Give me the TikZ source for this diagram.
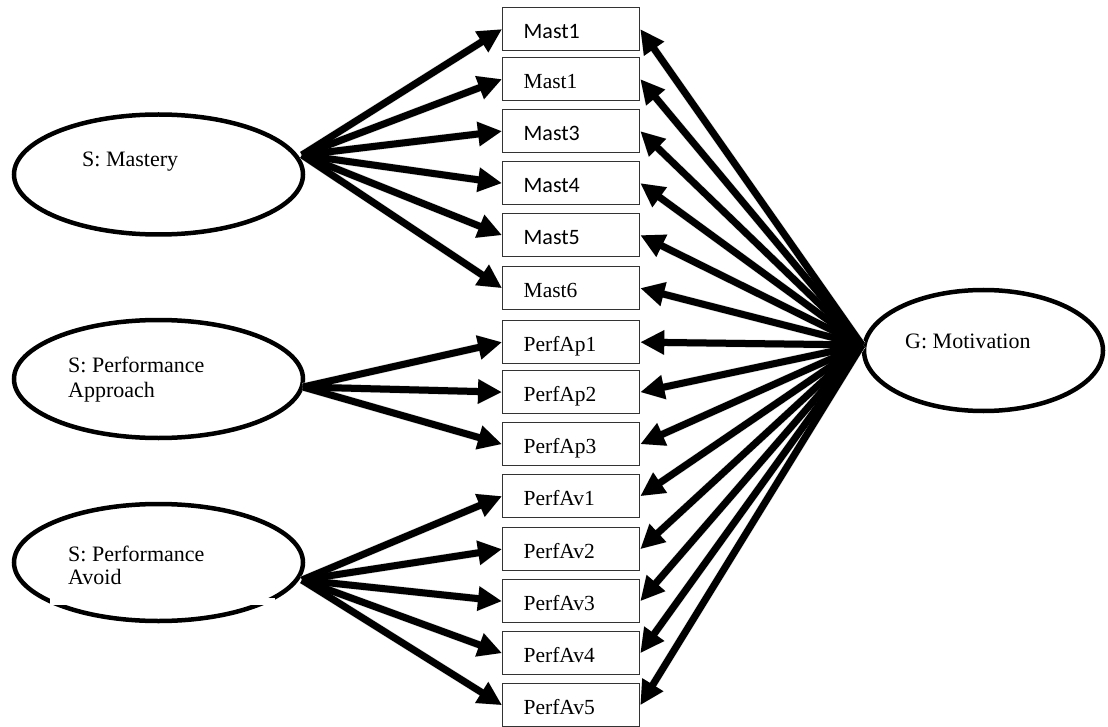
\documentclass[tikz,border=0pt]{standalone}
\usepackage{fontspec}
\setmainfont{Liberation Serif}
\newfontfamily\calib{Carlito}
\usetikzlibrary{arrows.meta,shapes.geometric}
\begin{document}
\begin{tikzpicture}[x=1pt,y=-1pt,
  box/.style={draw=black!80, line width=1.3pt, fill=white, rectangle,
    minimum width=137pt, minimum height=43pt, text width=95pt,
    inner xsep=21pt, inner ysep=0pt, align=left, text height=18pt,
    text depth=0pt, anchor=north west, font=\fontsize{21.5}{24}\selectfont},
  sans/.style={font=\calib\fontsize{22}{24}\selectfont},
  oval/.style={ellipse, draw, line width=4.5pt, inner sep=0pt},
  lbl/.style={anchor=base west, inner sep=0pt, font=\fontsize{22}{25}\selectfont},
  arr/.style={line width=7pt, -{Triangle[length=24pt,width=23pt]}},
  shd/.style={line width=8pt, draw=black!14, -{Triangle[length=24pt,width=24pt]}},
]
\useasboundingbox (0,0) rectangle (1108,727);

% latent variables
\node[oval, minimum width=289pt, minimum height=120pt] (sm) at (158.5,174.5) {};
\node[oval, minimum width=289pt, minimum height=118pt] (sa) at (158.5,379) {};
\node[oval, minimum width=289pt, minimum height=117pt] (sv) at (158.5,562.5) {};
\node[oval, minimum width=239pt, minimum height=121pt] (gm) at (983.5,350.5) {};
\fill[white] (50,598) rectangle (275,605);

\node[lbl] (tsm) at (82,167) {S: Mastery};
\node[lbl] (tsa1) at (68,372) {S: Performance};
\node[lbl] (tsa2) at (68,397) {Approach};
\node[lbl] (tsv1) at (68,561) {S: Performance};
\node[lbl] (tsv2) at (68,584) {Avoid};
\node[lbl] (tgm) at (905,348) {G: Motivation};

% indicators
\node[box, sans] (m1) at (502,7) {Mast1};
\node[box] (m2) at (502,57) {Mast1};
\node[box, sans] (m3) at (502,109) {Mast3};
\node[box, sans] (m4) at (502,161) {Mast4};
\node[box, sans] (m5) at (502,213) {Mast5};
\node[box] (m6) at (502,266) {Mast6};
\node[box] (pa1) at (502,320) {PerfAp1};
\node[box] (pa2) at (502,370) {PerfAp2};
\node[box] (pa3) at (502,422) {PerfAp3};
\node[box] (pv1) at (502,474) {PerfAv1};
\node[box] (pv2) at (502,527) {PerfAv2};
\node[box] (pv3) at (502,579) {PerfAv3};
\node[box] (pv4) at (502,631) {PerfAv4};
\node[box] (pv5) at (502,683) {PerfAv5};

% convergence points
\coordinate (cM) at (302,155);
\coordinate (cA) at (303,387);
\coordinate (cV) at (302,580);
\coordinate (cG) at (862,345);

% soft shadows
\begin{scope}[shift={(2,3)}]
\foreach \b in {m1,m2,m3,m4,m5,m6} \draw[shd] (cM) -- (\b.west);
\foreach \b in {pa1,pa2,pa3} \draw[shd] (cA) -- (\b.west);
\foreach \b in {pv1,pv2,pv3,pv4,pv5} \draw[shd] (cV) -- (\b.west);
\foreach \b in {m1,m2,m3,m4,m5,m6,pa1,pa2,pa3,pv1,pv2,pv3,pv4,pv5}
  \draw[shd] (cG) -- (\b.east);
\end{scope}

% specific factors
\foreach \b in {m1,m2,m3,m4,m5,m6} \draw[arr] (cM) -- (\b.west);
\foreach \b in {pa1,pa2,pa3} \draw[arr] (cA) -- (\b.west);
\foreach \b in {pv1,pv2,pv3,pv4,pv5} \draw[arr] (cV) -- (\b.west);
% general factor
\foreach \b in {m1,m2,m3,m4,m5,m6,pa1,pa2,pa3,pv1,pv2,pv3,pv4,pv5}
  \draw[arr] (cG) -- (\b.east);
\end{tikzpicture}
\end{document}
